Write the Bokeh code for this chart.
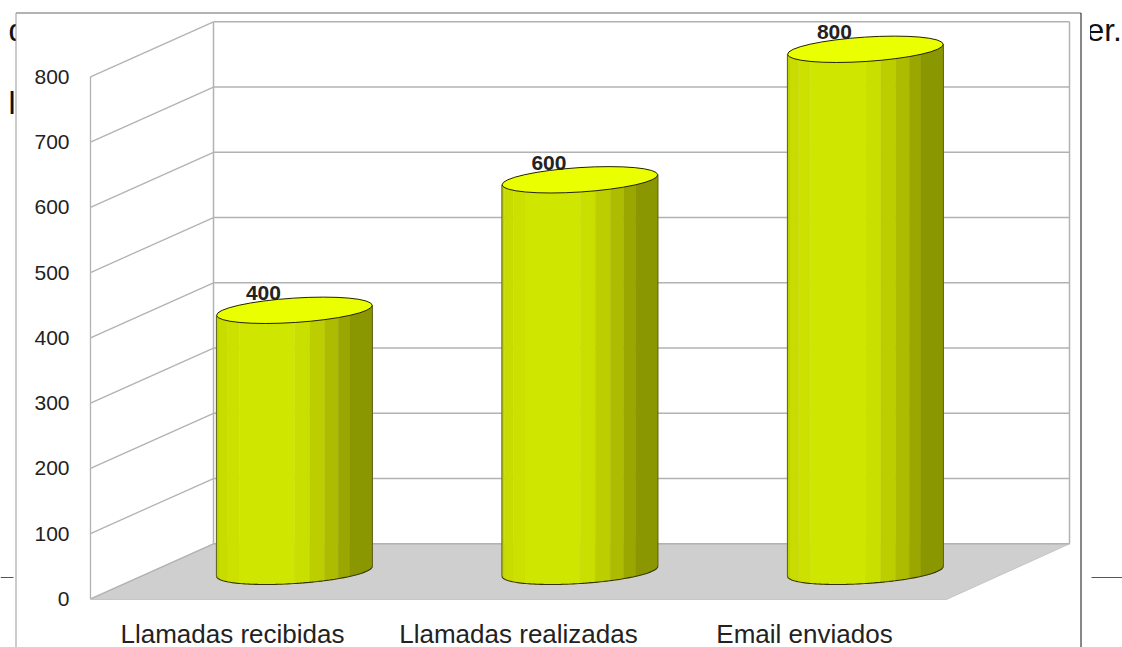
import numpy as np
from bokeh.core.properties import value
from bokeh.embed import file_html
from bokeh.models import FixedTicker, Range1d
from bokeh.plotting import figure
from bokeh.resources import INLINE

categories = ["Llamadas recibidas", "Llamadas realizadas", "Email enviados"]
series_values = [400, 600, 800]
y_ticks = [0, 100, 200, 300, 400, 500, 600, 700, 800]
data_labels = ["400", "600", "800"]
body_text = ["d", "l", "del Plan Andaluz de Alzheimer."]

strip_edges = [0, .017, .073, .148, .502, .599, .695, .781, .856, 1]
strip_colors = ["#bfd200", "#c8dc00", "#cce100", "#cfe600", "#c9df00",
                "#bccd00", "#adbc00", "#99a700", "#8b9700"]

FONT = value("Liberation Sans")
Y0, SCALE = 598.3, 0.6525            # pixel row of value 0, pixels per unit


def v(py):
    return (Y0 - py) / SCALE


p = figure(width=1122, height=647, output_backend="svg", toolbar_location=None,
           x_range=Range1d(0, 1122), y_range=Range1d(v(647), v(0)),
           min_border=0, outline_line_color=None)
p.background_fill_color = "white"
p.border_fill_color = "white"
p.grid.visible = False

# Page text behind the picture
p.text(x=[8], y=[v(29)], text=[body_text[0]], text_font=FONT, text_font_size=value("32px"),
       text_color="#111111", text_baseline="alphabetic")
p.text(x=[8], y=[v(102)], text=[body_text[1]], text_font=FONT, text_font_size=value("32px"),
       text_color="#111111", text_baseline="alphabetic")
p.text(x=[1125], y=[v(29)], text=[body_text[2]], text_font=FONT, text_font_size=value("32px"),
       text_color="#111111", text_align="right", text_baseline="alphabetic")
p.segment(x0=[0, 1091], y0=[v(577)] * 2, x1=[13, 1122], y1=[v(577)] * 2,
          line_color="#555555", line_width=1)

# Picture panel (its white margin runs a little past the black border)
p.quad(left=[15.5], right=[1089.5], bottom=[v(660)], top=[v(12.5)], fill_color="white",
       line_color=None)
p.segment(x0=[15.5], y0=[v(12.5)], x1=[1080.5], y1=[v(12.5)], line_color="#666666", line_width=1)
p.segment(x0=[15.5], y0=[v(12.5)], x1=[15.5], y1=[v(660)], line_color="#999999", line_width=1)
p.segment(x0=[1080.5], y0=[v(12.5)], x1=[1080.5], y1=[v(660)], line_color="#111111", line_width=1)

# 3D box
DX, DY = 123, 55 / SCALE
X_FRONT, X_RIGHT_BACK = 90, 1069
GRID = "#b2b2b2"
p.patch(x=[X_FRONT, X_FRONT + DX, X_RIGHT_BACK, X_RIGHT_BACK - DX],
        y=[-1, DY, DY, -1], fill_color="#cfcfcf", line_color="#c4c4c4", line_width=1)
p.segment(x0=[X_FRONT] * len(y_ticks), y0=y_ticks,
          x1=[X_FRONT + DX] * len(y_ticks), y1=[t + DY for t in y_ticks],
          line_color=GRID, line_width=1.3)
p.segment(x0=[X_FRONT + DX] * len(y_ticks), y0=[t + DY for t in y_ticks],
          x1=[X_RIGHT_BACK] * len(y_ticks), y1=[t + DY for t in y_ticks],
          line_color=GRID, line_width=1.5)
p.segment(x0=[X_FRONT + DX, X_RIGHT_BACK], y0=[DY, DY],
          x1=[X_FRONT + DX, X_RIGHT_BACK], y1=[800 + DY, 800 + DY],
          line_color=GRID, line_width=1.5)

# Cylinders
BAR_W, A, B, TILT = 156.0, 78.0, 12.2, 0.065
t = np.linspace(np.pi, 2 * np.pi, 80)
arc_x = A * np.cos(t) * np.cos(TILT) - B * np.sin(t) * np.sin(TILT)
arc_y = A * np.cos(t) * np.sin(TILT) + B * np.sin(t) * np.cos(TILT)
CENTER_DEPTH = 27.5 / SCALE
LABEL_DY = 17 / SCALE
RISE = A * np.sin(TILT) / SCALE

for i, val in enumerate(series_values):
    cx = 293.9 + 285.5 * i
    top = val + CENTER_DEPTH
    xs, ys = [], []
    for j, col in enumerate(strip_colors):
        a = cx - BAR_W / 2 + BAR_W * strip_edges[j]
        b = cx - BAR_W / 2 + BAR_W * strip_edges[j + 1]
        sx = np.linspace(a, b, 10)
        sy = CENTER_DEPTH + np.interp(sx - cx, arc_x, arc_y) / SCALE
        ta = top + RISE * (a - cx) / (BAR_W / 2)
        tb = top + RISE * (b - cx) / (BAR_W / 2)
        xs.append(list(sx) + [b, a])
        ys.append(list(sy) + [tb, ta])
    p.patches(xs, ys, fill_color=strip_colors, line_color=strip_colors, line_width=0.4)
    p.line(cx + arc_x, CENTER_DEPTH + arc_y / SCALE, line_color="#333300", line_width=1.1)
    p.segment(x0=[cx - BAR_W / 2, cx + BAR_W / 2],
              y0=[CENTER_DEPTH - RISE, CENTER_DEPTH + RISE],
              x1=[cx - BAR_W / 2, cx + BAR_W / 2],
              y1=[top - RISE, top + RISE],
              line_color="#5a5f20", line_width=1)
    p.ellipse(x=[cx], y=[top], width=[BAR_W], height=[2 * B / SCALE], angle=[TILT],
              fill_color="#eaff00", line_color="#222200", line_width=1)
    p.text(x=[cx - 31], y=[top + LABEL_DY], text=[data_labels[i]], text_font=FONT,
           text_font_size=value("21px"), text_font_style="bold", text_color="#222222",
           text_align="center", text_baseline="middle")

# Axes: real axes fixed in place inside the frame
yax = p.yaxis[0]
yax.fixed_location = X_FRONT
yax.bounds = (0, 800)
yax.ticker = FixedTicker(ticks=y_ticks)
yax.axis_line_color = GRID
yax.axis_line_width = 1.3
yax.major_tick_line_color = None
yax.minor_tick_line_color = None
yax.major_label_standoff = 15
yax.major_label_text_font = "Liberation Sans"
yax.major_label_text_font_size = "21px"
yax.major_label_text_color = "#222222"

label_x = [232.0, 518.0, 804.0]
xax = p.xaxis[0]
xax.fixed_location = 0
xax.ticker = FixedTicker(ticks=label_x)
xax.major_label_overrides = {x: c for x, c in zip(label_x, categories)}
xax.axis_line_color = None
xax.major_tick_line_color = None
xax.minor_tick_line_color = None
xax.major_label_standoff = 14
xax.major_label_text_font = "Liberation Sans"
xax.major_label_text_font_size = "26px"
xax.major_label_text_color = "#222222"

open("out.html", "w").write(file_html(p, INLINE))
